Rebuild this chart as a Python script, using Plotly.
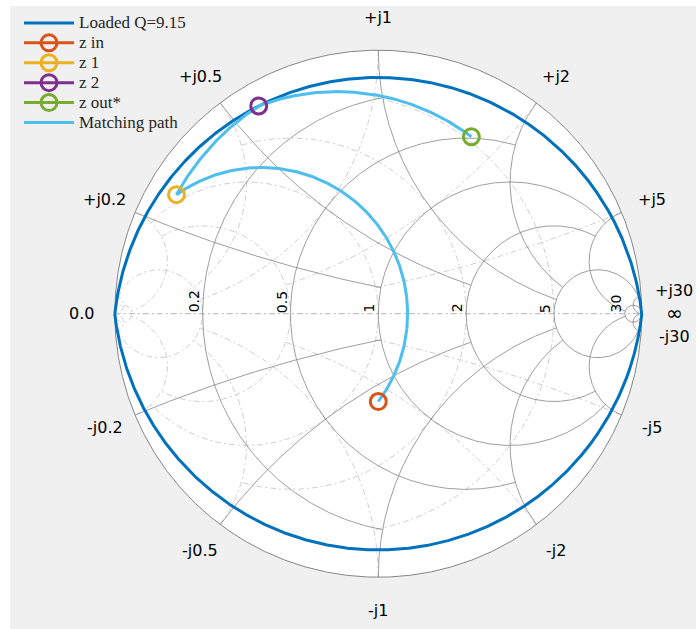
import numpy as np
import plotly.graph_objects as go

# Loaded quality factor of the matching network
q_loaded = 9.15

# Normalised impedances at each node of the network
point_names = ["z in", "z 1", "z 2", "z out*"]
point_r = [0.80, 0.063, 0.063, 0.488]
point_x = [-0.60, 0.272, 0.5765, 1.545]
point_colors = ["#D95319", "#EDB120", "#7E2F8E", "#77AC30"]

# Smith chart grid: circle values and the value where each one is clipped
grid_values = [0.2, 0.5, 1, 2, 5, 30]
grid_clip = [1, 2, 5, 5, 30, np.inf]

# Text around the chart
resistance_labels = ["0.2", "0.5", "1", "2", "5", "30"]
reactance_pos_labels = ["+j0.2", "+j0.5", "+j1", "+j2", "+j5", "+j30"]
reactance_neg_labels = ["-j0.2", "-j0.5", "-j1", "-j2", "-j5", "-j30"]

Q_COLOR = "#0072BD"
PATH_COLOR = "#4DBEEE"
GRID_Z = "#858585"
GRID_Y = "#cfcfcf"
LABEL_FONT = dict(family="DejaVu Sans", size=16, color="#000000")


def gamma(z):
    return (z - 1) / (z + 1)


def resistance_circle(r, xmax, n=600):
    """Constant-resistance circle, limited to |x| <= xmax."""
    if np.isinf(xmax):
        u = np.linspace(-1, 1, n)[1:-1]
    else:
        um = xmax / (1 + xmax)
        u = np.linspace(-um, um, n)
    x = u / (1 - np.abs(u))
    g = gamma(r + 1j * x)
    if np.isinf(xmax):
        g = np.concatenate([[1 + 0j], g, [1 + 0j]])
    return g


def reactance_arc(x, rmax, n=400):
    """Constant-reactance arc from the rim, limited to r <= rmax."""
    if np.isinf(rmax):
        u = np.linspace(0, 1, n)[:-1]
    else:
        u = np.linspace(0, rmax / (1 + rmax), n)
    r = u / (1 - u)
    g = gamma(r + 1j * x)
    if np.isinf(rmax):
        g = np.concatenate([g, [1 + 0j]])
    return g


def join(curves):
    xs, ys = [], []
    for c in curves:
        xs += list(c.real) + [None]
        ys += list(c.imag) + [None]
    return xs, ys


# Impedance (Z) grid curves; the admittance (Y) grid is its point reflection
z_curves = []
for v, clip in zip(grid_values, grid_clip):
    z_curves.append(resistance_circle(v, clip))
    z_curves.append(reactance_arc(v, clip))
    z_curves.append(reactance_arc(-v, clip))
y_curves = [-c for c in z_curves]

fig = go.Figure()

gx, gy = join(y_curves)
fig.add_trace(go.Scatter(x=gx, y=gy, mode="lines", hoverinfo="skip", showlegend=False,
                         line=dict(color=GRID_Y, width=1, dash="6px,3px,2px,3px")))
fig.add_trace(go.Scatter(x=[-1, 1], y=[0, 0], mode="lines", hoverinfo="skip", showlegend=False,
                         line=dict(color="#b4b4b4", width=1, dash="6px,3px,2px,3px")))
gx, gy = join(z_curves)
fig.add_trace(go.Scatter(x=gx, y=gy, mode="lines", hoverinfo="skip", showlegend=False,
                         line=dict(color=GRID_Z, width=0.8)))

# Rim of the chart (r = 0)
rim = resistance_circle(0.0, np.inf, 1200)
fig.add_trace(go.Scatter(x=rim.real, y=rim.imag, mode="lines", hoverinfo="skip", showlegend=False,
                         line=dict(color="#858585", width=1)))

# Constant loaded-Q contour: z = r (1 +/- jQ)
uq = np.linspace(0, 1, 3000)[:-1]
rq = uq / (1 - uq)
upper = gamma(rq * (1 + 1j * q_loaded))
lower = gamma(rq * (1 - 1j * q_loaded))
q_curve = np.concatenate([upper, [1 + 0j], lower[::-1]])
fig.add_trace(go.Scatter(x=q_curve.real, y=q_curve.imag, mode="lines",
                         name='<span style="font-size:17px">Loaded Q=%.2f</span>' % q_loaded,
                         legendrank=1, line=dict(color=Q_COLOR, width=3), hoverinfo="skip"))

# Matching path: arcs (centred on the real axis) joining consecutive nodes
pts = gamma(np.array(point_r) + 1j * np.array(point_x))
path = []
for p1, p2 in zip(pts[:-1], pts[1:]):
    c = (abs(p2) ** 2 - abs(p1) ** 2) / (2 * (p2.real - p1.real))
    a1 = np.angle(p1 - c)
    a2 = np.angle(p2 - c)
    d = (a2 - a1 + np.pi) % (2 * np.pi) - np.pi
    rad = abs(p1 - c)
    t = np.linspace(a1, a1 + d, 300)
    path.append(c + rad * np.exp(1j * t))
path = np.concatenate(path)
fig.add_trace(go.Scatter(x=path.real, y=path.imag, mode="lines",
                         name='<span style="font-size:17px">Matching path</span>',
                         legendrank=6, line=dict(color=PATH_COLOR, width=3), hoverinfo="skip"))

for i, (name, col) in enumerate(zip(point_names, point_colors)):
    fig.add_trace(go.Scatter(
        x=[pts[i].real], y=[pts[i].imag], mode="lines+markers",
        name='<span style="font-size:17px">%s</span>' % name, legendrank=2 + i,
        line=dict(color=col, width=3),
        marker=dict(symbol="circle-open", size=16, color=col, line=dict(width=3, color=col)),
        hovertemplate=name + ": %{x:.3f}, %{y:.3f}<extra></extra>"))

# Text labels
ann = []
R_LAB = 1.125
ann.append(dict(x=-R_LAB, y=0, text="0.0"))
ann.append(dict(x=R_LAB, y=0, text="∞", yshift=1,
                font=dict(family="DejaVu Sans", size=20, color="#000000")))
for v, tp, tn in zip(grid_values, reactance_pos_labels, reactance_neg_labels):
    g = gamma(1j * v)
    shift = 3 if v >= 30 else 0
    ann.append(dict(x=R_LAB * g.real, y=R_LAB * g.imag, text=tp, yshift=shift))
    ann.append(dict(x=R_LAB * g.real, y=-R_LAB * g.imag, text=tn, yshift=-shift))
for a in ann:
    a.setdefault("font", LABEL_FONT)
    a.update(xref="x", yref="y", showarrow=False, xanchor="center", yanchor="middle",
             borderpad=0)
for v, t in zip(grid_values, resistance_labels):
    ann.append(dict(x=(v - 1) / (v + 1), y=0, text=t, xref="x", yref="y", showarrow=False,
                    textangle=-90, xanchor="right", yanchor="bottom", xshift=1, yshift=-1,
                    font=dict(family="DejaVu Sans", size=14, color="#000000")))

W, H = 696, 629
CX, CY, RPX = 378.3, 313.7, 263.5

fig.update_layout(
    width=W, height=H, autosize=False,
    margin=dict(l=0, r=0, t=0, b=0),
    paper_bgcolor="white", plot_bgcolor="rgba(0,0,0,0)",
    xaxis=dict(range=[-CX / RPX, (W - CX) / RPX], visible=False, fixedrange=True),
    yaxis=dict(range=[-(H - CY) / RPX, CY / RPX], visible=False, fixedrange=True),
    shapes=[
        dict(type="rect", xref="paper", yref="paper", x0=10 / W, x1=1, y0=0, y1=1 - 6 / H,
             fillcolor="#f0f0f0", line=dict(width=0), layer="below"),
        dict(type="circle", xref="x", yref="y", x0=-1, y0=-1, x1=1, y1=1,
             fillcolor="white", line=dict(width=0), layer="below"),
    ],
    annotations=ann,
    legend=dict(x=19 / W, y=1 - 8 / H, xanchor="left", yanchor="top",
                bgcolor="rgba(0,0,0,0)", itemwidth=50, tracegroupgap=0,
                font=dict(family="Liberation Serif", size=13, color="#262626")),
    hovermode="closest",
)

fig.write_html("out.html")
